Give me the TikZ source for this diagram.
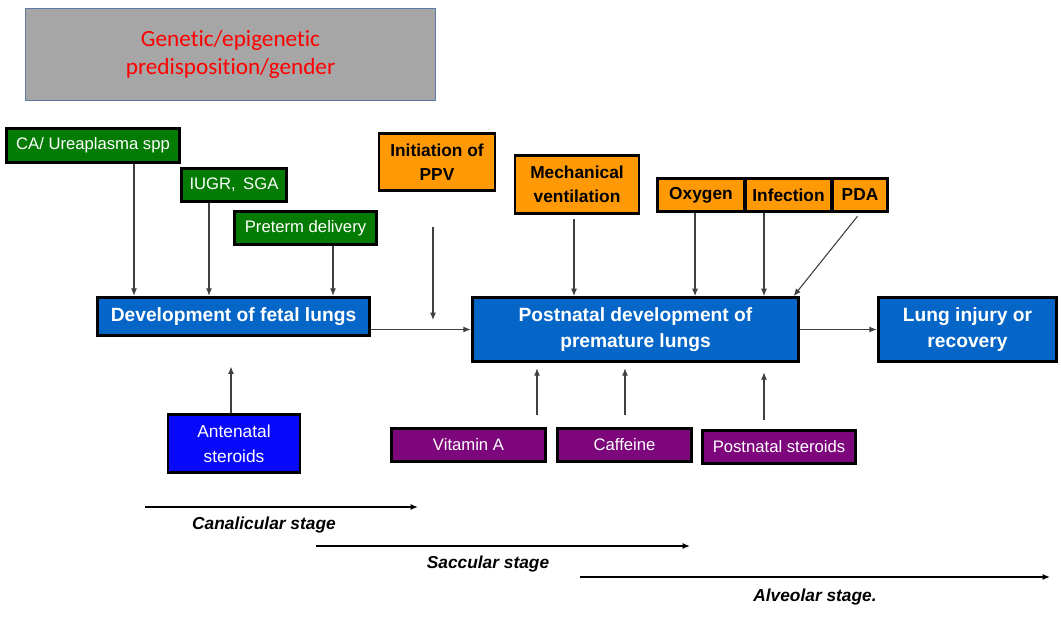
\documentclass[tikz,border=0pt]{standalone}
\usepackage{fontspec}
\setmainfont{Liberation Sans}
\newfontfamily\titlefont[Ligatures=NoCommon]{Carlito}
\usetikzlibrary{arrows.meta,positioning}
\usepackage{xcolor}
\definecolor{greenbox}{HTML}{047C04}
\definecolor{orangebox}{HTML}{FF9A06}
\definecolor{bluebox}{HTML}{0566C8}
\definecolor{deepblue}{HTML}{0808FA}
\definecolor{purplebox}{HTML}{7D067D}
\definecolor{graybox}{HTML}{A6A6A6}
\definecolor{grayedge}{HTML}{5A7CA6}
\definecolor{linegray}{HTML}{404040}
\tikzset{
    boxsty/.style={draw=black,line width=2.2pt,rectangle,inner sep=0pt,align=center},
    gcsty/.style={boxsty,fill=greenbox,text=white,font=\fontsize{12.5}{15}\selectfont},
    ocsty/.style={boxsty,fill=orangebox,text=black,font=\bfseries\fontsize{13}{18}\selectfont},
    bcsty/.style={boxsty,fill=bluebox,text=white,font=\bfseries\fontsize{14.4}{19}\selectfont},
    dbcsty/.style={boxsty,fill=deepblue,text=white,font=\fontsize{13}{18.5}\selectfont},
    pcsty/.style={boxsty,fill=purplebox,text=white,font=\fontsize{12.5}{15}\selectfont},
    titlesty/.style={draw=grayedge,line width=0.9pt,fill=graybox,text=red,align=center,
        font=\titlefont\fontsize{17.4}{21}\selectfont},
    consty/.style={->,draw=linegray,line width=0.8pt},
    stagesty/.style={->,draw=black,line width=1.5pt},
    stagelabsty/.style={font=\bfseries\itshape\fontsize{13}{15}\selectfont},
}

\begin{document}
\begin{tikzpicture}[>={Latex[length=5.5pt,width=4.5pt]},x=0.75pt,y=-0.75pt]
\useasboundingbox (0,0) rectangle (1061,618);

% top box
\node[titlesty,minimum width=308pt,minimum height=69pt] (gene) at (230.5,54.5)
  {Genetic/epigenetic\\predisposition/gender};

% prenatal factors
\node[gcsty,minimum width=130pt,minimum height=25pt] (ca) at (93,145.5) {CA/ Ureaplasma spp};
\node[gcsty,minimum width=79pt,minimum height=25pt] (iugr) at (234,185) {IUGR,\, SGA};
\node[gcsty,minimum width=107pt,minimum height=25pt] (preterm) at (305.5,228) {Preterm delivery};

% postnatal factors
\node[ocsty,minimum width=87pt,minimum height=43pt] (ppv) at (437,162) {Initiation of\\PPV};
\node[ocsty,minimum width=93pt,minimum height=44pt] (mech) at (577,184.5) {Mechanical\\ventilation};
\node[ocsty,minimum width=65pt,minimum height=25pt] (oxygen) at (701,195) {Oxygen};
\node[ocsty,minimum width=65pt,minimum height=25pt] (infection) at (788.5,195) {Infection};
\node[ocsty,minimum width=41pt,minimum height=25pt] (pda) at (860,195) {PDA};

% main chain
\node[bcsty,minimum width=204pt,minimum height=29pt] (fetal) at (233.5,316.5) {Development of fetal lungs};
\node[bcsty,minimum width=245pt,minimum height=48pt] (postnatal) at (635.5,329.5) {Postnatal development of\\premature lungs};
\node[bcsty,minimum width=134pt,minimum height=48pt] (lung) at (967.5,329.5) {Lung injury or\\recovery};

% protective factors
\node[dbcsty,minimum width=99pt,minimum height=44pt] (antenatal) at (234,443.5) {Antenatal\\steroids};
\node[pcsty,minimum width=116pt,minimum height=25pt] (vita) at (468.5,445) {Vitamin A};
\node[pcsty,minimum width=100pt,minimum height=25pt] (caffeine) at (624.5,445) {Caffeine};
\node[pcsty,minimum width=115pt,minimum height=25pt] (psteroids) at (779,447) {Postnatal steroids};

% connectors
\draw[consty] (134,0 |- ca.south) -- (134,0 |- fetal.north);
\draw[consty] (209,0 |- iugr.south) -- (209,0 |- fetal.north);
\draw[consty] (333,0 |- preterm.south) -- (333,0 |- fetal.north);
\coordinate (ppvstart) at (433,227);
\coordinate (ppvend) at (433,320);
\draw[consty] (ppvstart) -- (ppvend);
\draw[consty] (fetal.east |- postnatal.west) -- (postnatal.west);
\draw[consty] (postnatal.east) -- (lung.west);
\draw[consty,shorten <=3pt] (574,0 |- mech.south) -- (574,0 |- postnatal.north);
\draw[consty] (695,0 |- oxygen.south) -- (695,0 |- postnatal.north);
\draw[consty] (764,0 |- infection.south) -- (764,0 |- postnatal.north);
\draw[consty,shorten <=3pt] (pda.south) -- ([xshift=-5pt]postnatal.north east);
\draw[consty,shorten >=22pt] (231,0 |- antenatal.north) -- (231,0 |- fetal.south);
\draw[consty,shorten <=9pt,shorten >=4pt] (537,0 |- vita.north) -- (537,0 |- postnatal.south);
\draw[consty,shorten <=9pt,shorten >=4pt] (625,0 |- caffeine.north) -- (625,0 |- postnatal.south);
\draw[consty,shorten <=7pt,shorten >=7pt] (764,0 |- psteroids.north) -- (764,0 |- postnatal.south);

% stages
\coordinate (canstart) at (145,507);
\coordinate (canend) at (418,507);
\coordinate (sacstart) at (316,546);
\coordinate (sacend) at (690,546);
\coordinate (alvstart) at (580,577);
\coordinate (alvend) at (1050,577);
\draw[stagesty] (canstart) -- (canend);
\draw[stagesty] (sacstart) -- (sacend);
\draw[stagesty] (alvstart) -- (alvend);
\node[stagelabsty] (canlab) at (264,525) {Canalicular stage};
\node[stagelabsty] (saclab) at (488,564) {Saccular stage};
\node[stagelabsty] (alvlab) at (815,597) {Alveolar stage.};
\end{tikzpicture}
\end{document}
